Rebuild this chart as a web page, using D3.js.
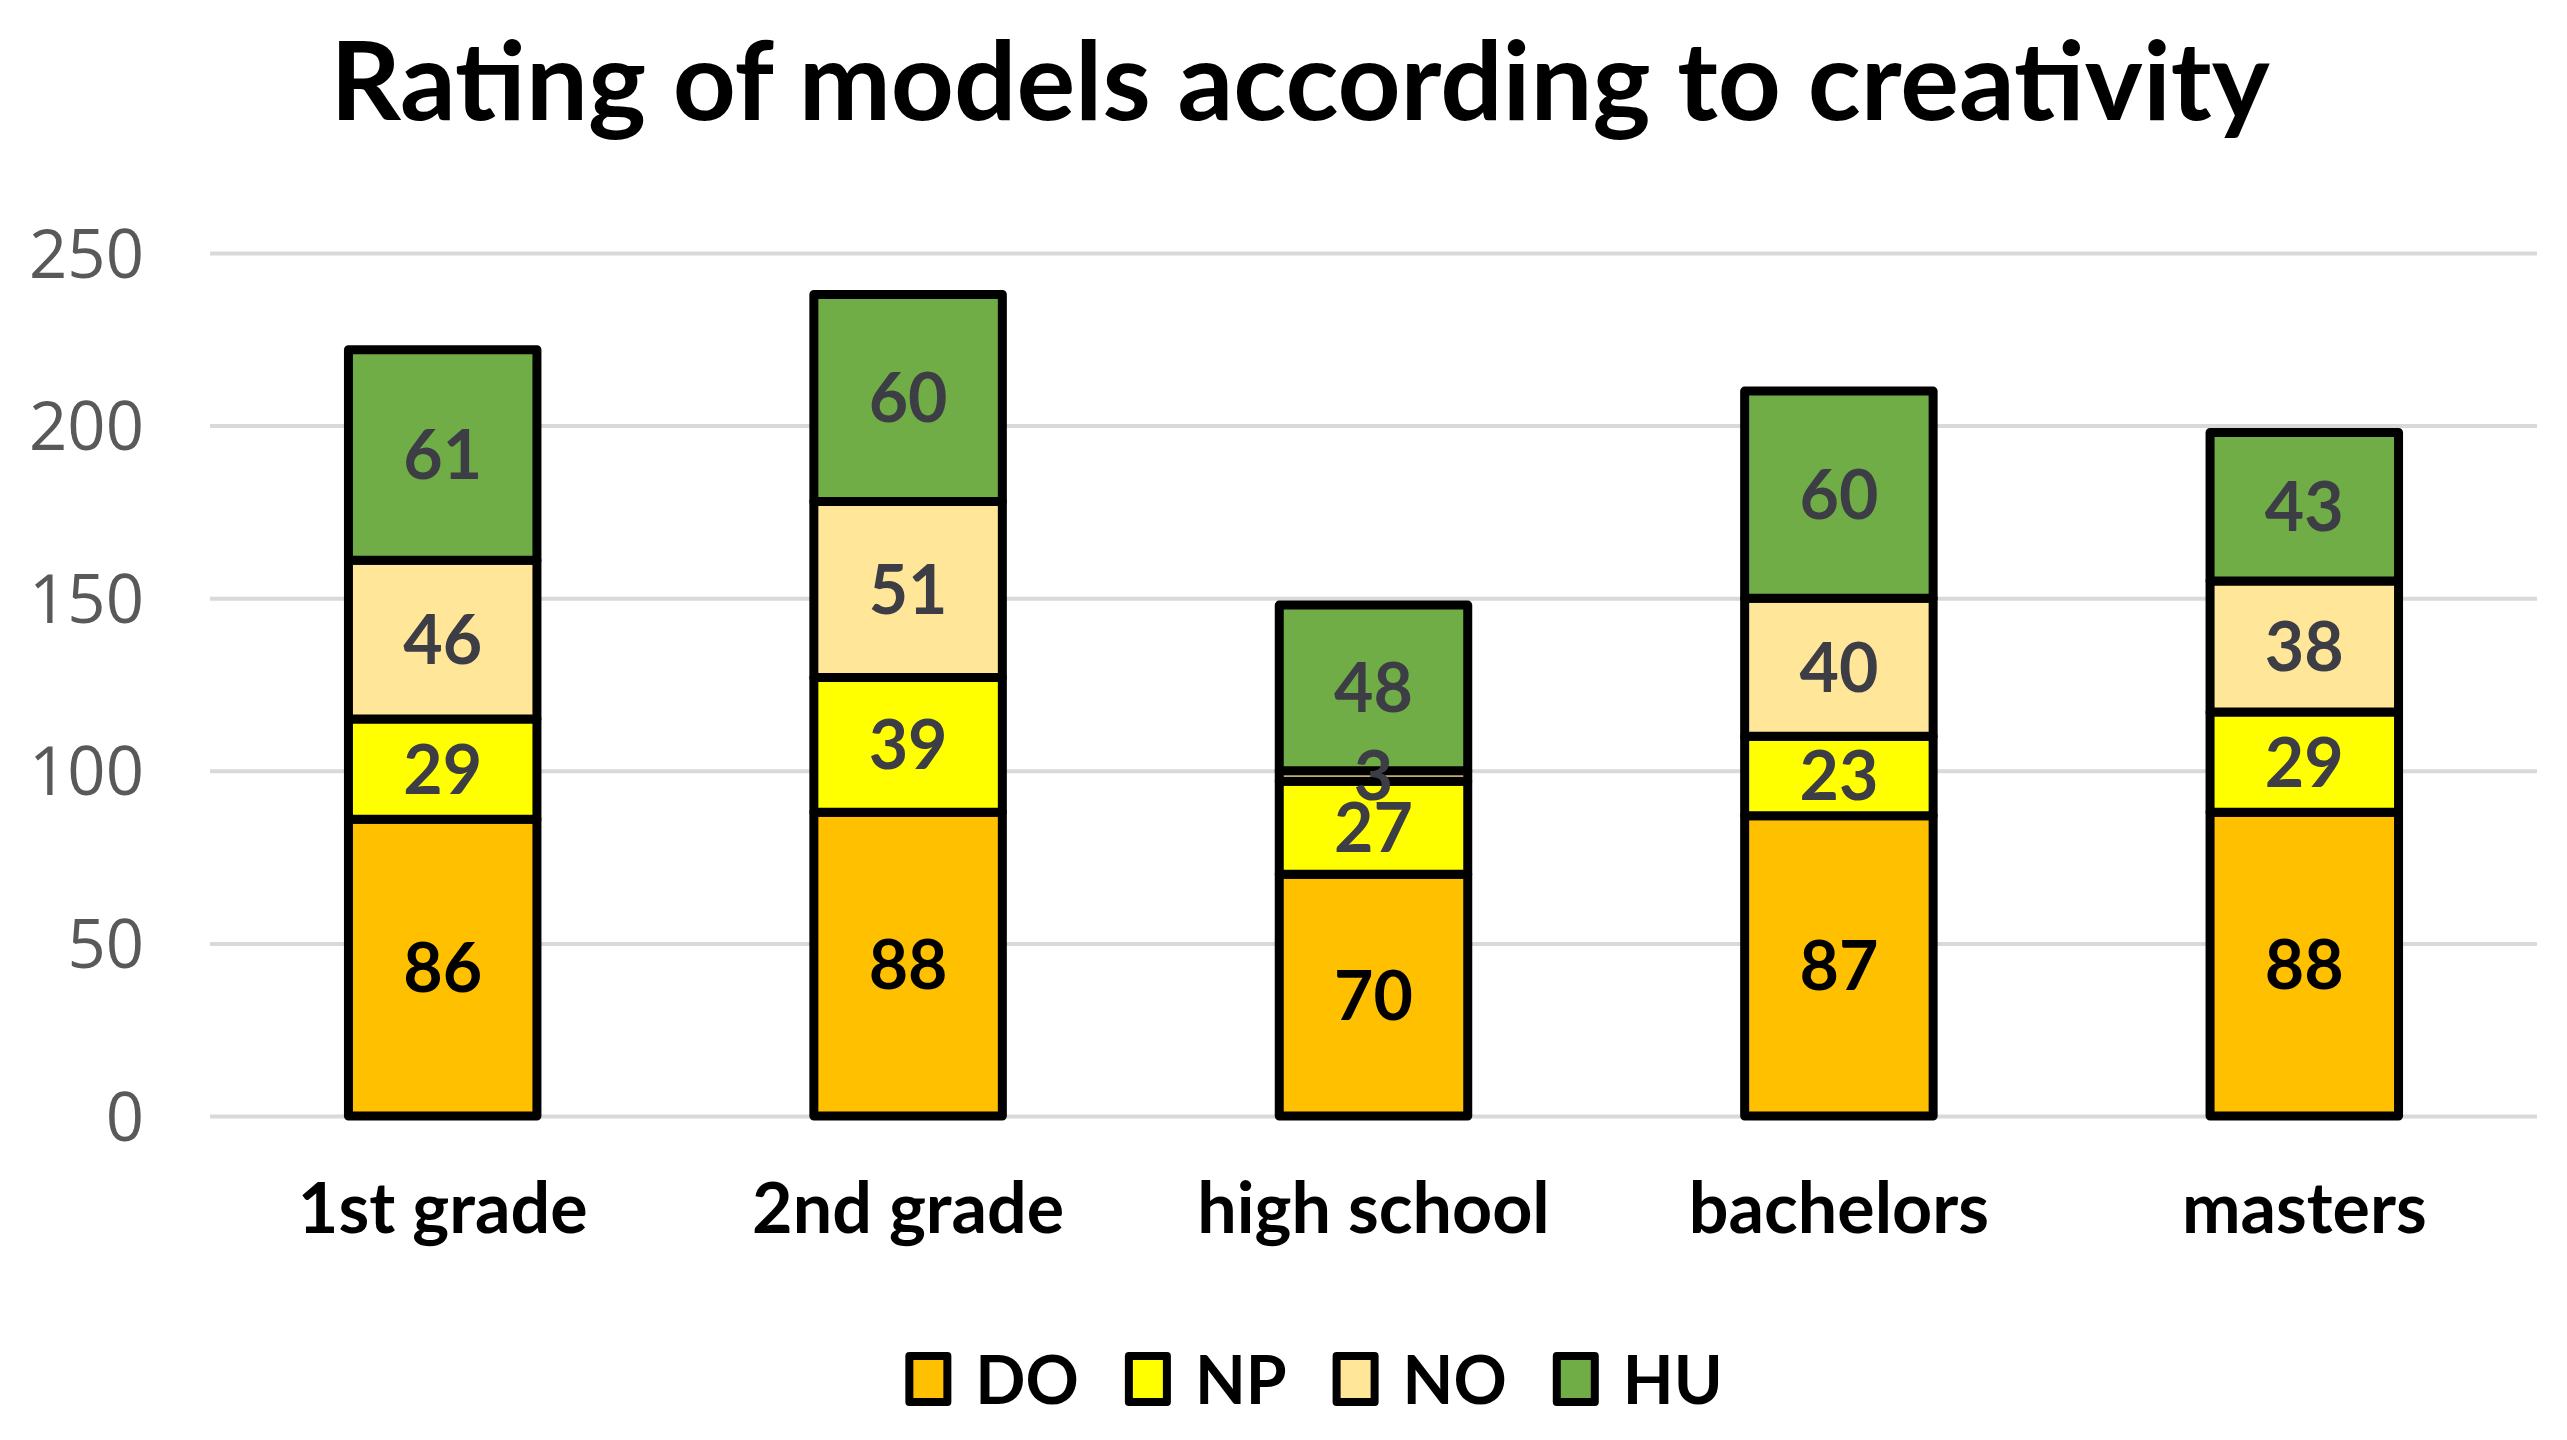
<!DOCTYPE html>
<html>
<head>
	<meta charset="utf-8">
	<title>Rating of models according to creativity</title>
	<script src="https://d3js.org/d3.v7.min.js"></script>
	<style>
		body { margin: 0; background: #fff; }
		svg { display: block; }
	</style>
</head>
<body>
	<div id="chartDiv"></div>
	<script>
		// data
		const categories = ['1st grade', '2nd grade', 'high school', 'bachelors', 'masters'];
		const seriesKeys = ['DO', 'NP', 'NO', 'HU'];
		const DO = [86, 88, 70, 87, 88];
		const NP = [29, 39, 27, 23, 29];
		const NO = [46, 51, 3, 40, 38];
		const HU = [61, 60, 48, 60, 43];
		const yTicks = [0, 50, 100, 150, 200, 250];

		const seriesColors = { DO: '#FFC000', NP: '#FFFF00', NO: '#FFE699', HU: '#70AD47' };
		const labelColors = { DO: '#000000', NP: '#3d3d45', NO: '#3d3d45', HU: '#3d3d45' };

		const width = 2567, height = 1440;
		const margin = { left: 210, right: 30, top: 253, bottom: 324 };

		const svg = d3.select('#chartDiv').append('svg')
			.attr('width', width)
			.attr('height', height);

		// build rows for the stack
		const rows = categories.map((c, i) => ({ cat: c, DO: DO[i], NP: NP[i], NO: NO[i], HU: HU[i] }));
		const stacked = d3.stack().keys(seriesKeys)(rows);

		const xScale = d3.scaleBand()
			.domain(categories)
			.range([margin.left, width - margin.right])
			.paddingInner(0.595)
			.paddingOuter(0.2975);

		const yScale = d3.scaleLinear()
			.domain([0, 250])
			.range([height - margin.bottom, margin.top]);

		// gridlines
		const yAxis = d3.axisLeft(yScale)
			.tickValues(yTicks)
			.tickSize(-(width - margin.right - margin.left))
			.tickPadding(66);

		const yAxisG = svg.append('g')
			.attr('transform', `translate(${margin.left},0)`)
			.call(yAxis);
		yAxisG.select('.domain').remove();
		yAxisG.selectAll('.tick line')
			.attr('stroke', '#d9d9d9')
			.attr('stroke-width', 4);
		yAxisG.selectAll('.tick text')
			.attr('fill', '#595959')
			.style('font-family', '"Open Sans", sans-serif')
			.style('font-size', '67px')
			.attr('dy', '0.36em');

		// bars
		const layer = svg.selectAll('.layer')
			.data(stacked)
			.enter().append('g')
			.attr('class', 'layer');

		layer.selectAll('rect')
			.data(d => d.map(s => ({ key: d.key, s: s })))
			.enter().append('rect')
			.attr('x', d => xScale(d.s.data.cat))
			.attr('width', xScale.bandwidth())
			.attr('y', d => yScale(d.s[1]))
			.attr('height', d => yScale(d.s[0]) - yScale(d.s[1]))
			.attr('fill', d => seriesColors[d.key])
			.attr('stroke', '#000')
			.attr('stroke-width', 9)
			.attr('stroke-linejoin', 'round');

		// value labels, on top of all bars
		const labelsG = svg.append('g');
		stacked.forEach(ser => {
			labelsG.selectAll(null)
				.data(ser)
				.enter().append('text')
				.attr('x', d => xScale(d.data.cat) + xScale.bandwidth() / 2)
				.attr('y', d => yScale((d[0] + d[1]) / 2))
				.attr('dy', '0.36em')
				.attr('text-anchor', 'middle')
				.attr('fill', labelColors[ser.key])
				.style('font-family', 'Lato, sans-serif')
				.style('font-weight', 700)
				.style('font-size', '68px')
				.text(d => d[1] - d[0]);
		});

		// category labels
		svg.append('g').selectAll('text')
			.data(categories)
			.enter().append('text')
			.attr('x', d => xScale(d) + xScale.bandwidth() / 2)
			.attr('y', 1233)
			.attr('text-anchor', 'middle')
			.style('font-family', 'Lato, sans-serif')
			.style('font-weight', 700)
			.style('font-size', '70px')
			.attr('fill', '#000')
			.text(d => d);

		// title
		svg.append('text')
			.attr('x', 1300)
			.attr('y', 120)
			.attr('text-anchor', 'middle')
			.style('font-family', 'Lato, sans-serif')
			.style('font-weight', 700)
			.style('font-size', '110px')
			.attr('fill', '#000')
			.text('Rating of models according to creativity');

		// legend
		const legendG = svg.append('g');
		let lx = 0;
		seriesKeys.forEach(k => {
			const item = legendG.append('g').attr('transform', `translate(${lx},0)`);
			item.append('rect')
				.attr('x', 4).attr('y', -48)
				.attr('width', 38).attr('height', 46)
				.attr('fill', seriesColors[k])
				.attr('stroke', '#000')
				.attr('stroke-width', 8)
				.attr('stroke-linejoin', 'round');
			const t = item.append('text')
				.attr('x', 70)
				.attr('y', 0)
				.style('font-family', 'Lato, sans-serif')
				.style('font-weight', 700)
				.style('font-size', '66px')
				.attr('fill', '#000')
				.text(k);
			lx += 70 + t.node().getComputedTextLength() + 46;
		});
		const legendW = lx - 46;
		legendG.attr('transform', `translate(${1314 - legendW / 2},1404)`);
	</script>
</body>
</html>
